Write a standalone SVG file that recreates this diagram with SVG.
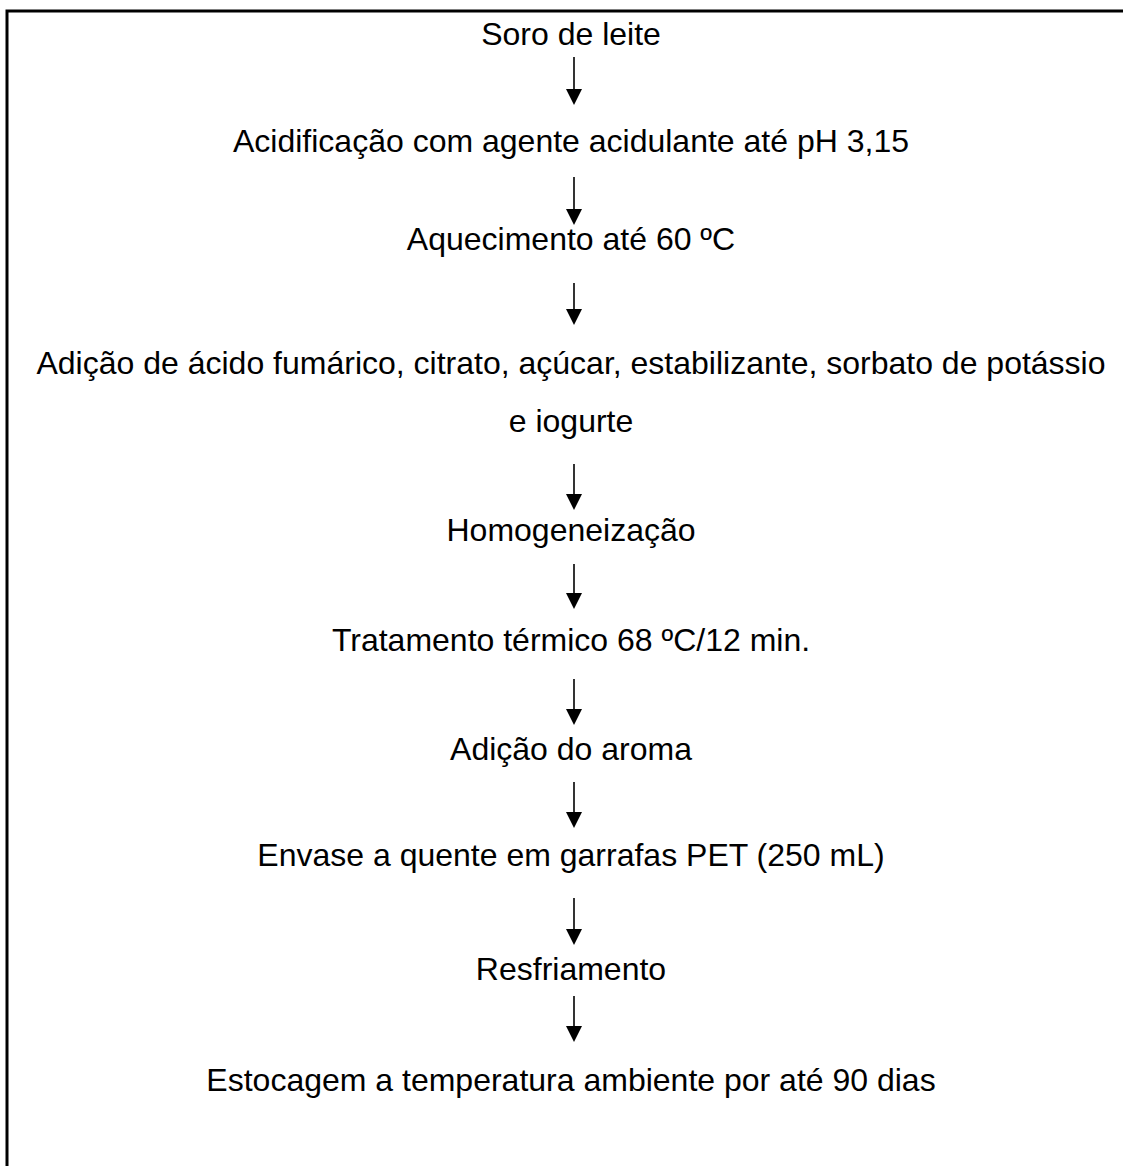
<svg xmlns="http://www.w3.org/2000/svg" width="1123" height="1166" viewBox="0 0 1123 1166">
<style>
  text { font-family: "Liberation Sans", Arial, sans-serif; font-size: 32px; fill: #000; text-anchor: middle; }
  .conn line { stroke: #000; stroke-width: 1.6; }
  .conn polygon { fill: #000; }
</style>
<rect x="0" y="0" width="1123" height="1166" fill="#fff"/>
<path d="M7 1170 V11 H1130" fill="none" stroke="#000" stroke-width="3"/>
<g id="n1"><text x="571" y="45">Soro de leite</text></g>
<g id="n2"><text x="571" y="152">Acidificação com agente acidulante até pH 3,15</text></g>
<g id="n3"><text x="571" y="250">Aquecimento até 60 ºC</text></g>
<g id="n4"><text x="571" y="374">Adição de ácido fumárico, citrato, açúcar, estabilizante, sorbato de potássio</text><text x="571" y="432">e iogurte</text></g>
<g id="n5"><text x="571" y="541">Homogeneização</text></g>
<g id="n6"><text x="571" y="651">Tratamento térmico 68 ºC/12 min.</text></g>
<g id="n7"><text x="571" y="760">Adição do aroma</text></g>
<g id="n8"><text x="571" y="866">Envase a quente em garrafas PET (250 mL)</text></g>
<g id="n9"><text x="571" y="980">Resfriamento</text></g>
<g id="n10"><text x="571" y="1091">Estocagem a temperatura ambiente por até 90 dias</text></g>
<g id="connectors" class="conn">
  <line x1="574" y1="57" x2="574" y2="92"/><polygon points="566,89 582,89 574,105"/>
  <line x1="574" y1="177" x2="574" y2="212"/><polygon points="566,209 582,209 574,225"/>
  <line x1="574" y1="283" x2="574" y2="312"/><polygon points="566,309 582,309 574,325"/>
  <line x1="574" y1="464" x2="574" y2="497"/><polygon points="566,494 582,494 574,510"/>
  <line x1="574" y1="564" x2="574" y2="596"/><polygon points="566,593 582,593 574,609"/>
  <line x1="574" y1="679" x2="574" y2="712"/><polygon points="566,709 582,709 574,725"/>
  <line x1="574" y1="782" x2="574" y2="815"/><polygon points="566,812 582,812 574,828"/>
  <line x1="574" y1="898" x2="574" y2="932"/><polygon points="566,929 582,929 574,945"/>
  <line x1="574" y1="996" x2="574" y2="1029"/><polygon points="566,1026 582,1026 574,1042"/>
</g>
</svg>
